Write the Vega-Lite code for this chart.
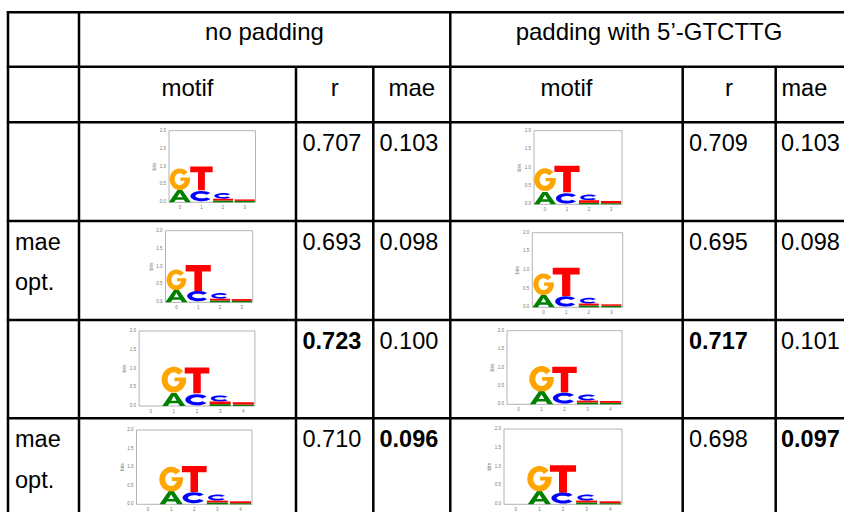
{
  "$schema": "https://vega.github.io/schema/vega-lite/v6.json",
  "width": 844,
  "height": 512,
  "padding": 0,
  "autosize": "none",
  "background": "white",
  "config": {"view": {"stroke": null}, "font": "Liberation Sans"},
  "datasets": {
    "grid": [
      {"x1": 6.8, "x2": 844, "y1": 12.3, "y2": 12.3},
      {"x1": 6.8, "x2": 844, "y1": 66.7, "y2": 66.7},
      {"x1": 6.8, "x2": 844, "y1": 122.3, "y2": 122.3},
      {"x1": 6.8, "x2": 844, "y1": 221, "y2": 221},
      {"x1": 6.8, "x2": 844, "y1": 320, "y2": 320},
      {"x1": 6.8, "x2": 844, "y1": 418.3, "y2": 418.3},
      {"x1": 8, "x2": 8, "y1": 11, "y2": 512},
      {"x1": 79, "x2": 79, "y1": 11, "y2": 512},
      {"x1": 296, "x2": 296, "y1": 66.7, "y2": 512},
      {"x1": 373.3, "x2": 373.3, "y1": 66.7, "y2": 512},
      {"x1": 450.3, "x2": 450.3, "y1": 11, "y2": 512},
      {"x1": 682.7, "x2": 682.7, "y1": 66.7, "y2": 512},
      {"x1": 775.7, "x2": 775.7, "y1": 66.7, "y2": 512}
    ],
    "headers": [
      {"t": "no padding", "x": 264.5, "y": 40},
      {"t": "padding with 5’-GTCTTG", "x": 649, "y": 40},
      {"t": "motif", "x": 187.5, "y": 96},
      {"t": "r", "x": 334.7, "y": 96},
      {"t": "mae", "x": 411.8, "y": 96},
      {"t": "motif", "x": 566.5, "y": 96},
      {"t": "r", "x": 729, "y": 96}
    ],
    "cells": [
      {"t": "mae", "x": 781.5, "y": 96, "b": false},
      {"t": "mae", "x": 15, "y": 250, "b": false},
      {"t": "opt.", "x": 15, "y": 290, "b": false},
      {"t": "mae", "x": 15, "y": 447, "b": false},
      {"t": "opt.", "x": 15, "y": 488, "b": false},
      {"t": "0.707", "x": 302.5, "y": 150.5, "b": false},
      {"t": "0.103", "x": 379.5, "y": 150.5, "b": false},
      {"t": "0.709", "x": 689, "y": 150.5, "b": false},
      {"t": "0.103", "x": 781, "y": 150.5, "b": false},
      {"t": "0.693", "x": 302.5, "y": 250, "b": false},
      {"t": "0.098", "x": 379.5, "y": 250, "b": false},
      {"t": "0.695", "x": 689, "y": 250, "b": false},
      {"t": "0.098", "x": 781, "y": 250, "b": false},
      {"t": "0.723", "x": 302.5, "y": 348.5, "b": true},
      {"t": "0.100", "x": 379.5, "y": 348.5, "b": false},
      {"t": "0.717", "x": 689, "y": 348.5, "b": true},
      {"t": "0.101", "x": 781, "y": 348.5, "b": false},
      {"t": "0.710", "x": 302.5, "y": 447, "b": false},
      {"t": "0.096", "x": 379.5, "y": 447, "b": true},
      {"t": "0.698", "x": 689, "y": 447, "b": false},
      {"t": "0.097", "x": 781, "y": 447, "b": true}
    ],
    "yt": [{"v": 0}, {"v": 0.5}, {"v": 1}, {"v": 1.5}, {"v": 2}],
    "xt4": [{"v": 0}, {"v": 1}, {"v": 2}, {"v": 3}],
    "xt5": [{"v": 0}, {"v": 1}, {"v": 2}, {"v": 3}, {"v": 4}],
    "letters": [
      {"logo": 1, "pos": 0, "letter": "A", "y0": 0, "h": 0.345},
      {"logo": 1, "pos": 0, "letter": "G", "y0": 0.345, "h": 0.6},
      {"logo": 1, "pos": 1, "letter": "C", "y0": 0.03, "h": 0.29},
      {"logo": 1, "pos": 1, "letter": "T", "y0": 0.34, "h": 0.66},
      {"logo": 1, "pos": 2, "letter": "A", "y0": 0, "h": 0.05},
      {"logo": 1, "pos": 2, "letter": "T", "y0": 0.05, "h": 0.05},
      {"logo": 1, "pos": 2, "letter": "C", "y0": 0.1, "h": 0.14},
      {"logo": 1, "pos": 3, "letter": "A", "y0": 0, "h": 0.04},
      {"logo": 1, "pos": 3, "letter": "T", "y0": 0.04, "h": 0.04},
      {"logo": 2, "pos": 0, "letter": "A", "y0": 0, "h": 0.36},
      {"logo": 2, "pos": 0, "letter": "G", "y0": 0.36, "h": 0.62},
      {"logo": 2, "pos": 1, "letter": "C", "y0": 0.02, "h": 0.31},
      {"logo": 2, "pos": 1, "letter": "T", "y0": 0.33, "h": 0.72},
      {"logo": 2, "pos": 2, "letter": "A", "y0": 0, "h": 0.04},
      {"logo": 2, "pos": 2, "letter": "T", "y0": 0.04, "h": 0.07},
      {"logo": 2, "pos": 2, "letter": "C", "y0": 0.11, "h": 0.19},
      {"logo": 2, "pos": 3, "letter": "A", "y0": 0, "h": 0.03},
      {"logo": 2, "pos": 3, "letter": "T", "y0": 0.03, "h": 0.06},
      {"logo": 3, "pos": 0, "letter": "A", "y0": 0, "h": 0.34},
      {"logo": 3, "pos": 0, "letter": "G", "y0": 0.34, "h": 0.58},
      {"logo": 3, "pos": 1, "letter": "C", "y0": 0.03, "h": 0.27},
      {"logo": 3, "pos": 1, "letter": "T", "y0": 0.3, "h": 0.74},
      {"logo": 3, "pos": 2, "letter": "A", "y0": 0, "h": 0.05},
      {"logo": 3, "pos": 2, "letter": "T", "y0": 0.05, "h": 0.05},
      {"logo": 3, "pos": 2, "letter": "C", "y0": 0.1, "h": 0.16},
      {"logo": 3, "pos": 3, "letter": "A", "y0": 0, "h": 0.04},
      {"logo": 3, "pos": 3, "letter": "T", "y0": 0.04, "h": 0.05},
      {"logo": 4, "pos": 0, "letter": "A", "y0": 0, "h": 0.33},
      {"logo": 4, "pos": 0, "letter": "G", "y0": 0.33, "h": 0.58},
      {"logo": 4, "pos": 1, "letter": "C", "y0": 0.02, "h": 0.28},
      {"logo": 4, "pos": 1, "letter": "T", "y0": 0.3, "h": 0.76},
      {"logo": 4, "pos": 2, "letter": "A", "y0": 0, "h": 0.05},
      {"logo": 4, "pos": 2, "letter": "T", "y0": 0.05, "h": 0.05},
      {"logo": 4, "pos": 2, "letter": "C", "y0": 0.1, "h": 0.17},
      {"logo": 4, "pos": 3, "letter": "A", "y0": 0, "h": 0.04},
      {"logo": 4, "pos": 3, "letter": "T", "y0": 0.04, "h": 0.04},
      {"logo": 5, "pos": 1, "letter": "A", "y0": 0, "h": 0.36},
      {"logo": 5, "pos": 1, "letter": "G", "y0": 0.36, "h": 0.69},
      {"logo": 5, "pos": 2, "letter": "C", "y0": 0.02, "h": 0.32},
      {"logo": 5, "pos": 2, "letter": "T", "y0": 0.34, "h": 0.69},
      {"logo": 5, "pos": 3, "letter": "A", "y0": 0, "h": 0.05},
      {"logo": 5, "pos": 3, "letter": "T", "y0": 0.05, "h": 0.07},
      {"logo": 5, "pos": 3, "letter": "C", "y0": 0.12, "h": 0.18},
      {"logo": 5, "pos": 4, "letter": "A", "y0": 0, "h": 0.04},
      {"logo": 5, "pos": 4, "letter": "T", "y0": 0.04, "h": 0.06},
      {"logo": 6, "pos": 1, "letter": "A", "y0": 0, "h": 0.34},
      {"logo": 6, "pos": 1, "letter": "G", "y0": 0.34, "h": 0.7},
      {"logo": 6, "pos": 2, "letter": "C", "y0": 0.02, "h": 0.3},
      {"logo": 6, "pos": 2, "letter": "T", "y0": 0.32, "h": 0.7},
      {"logo": 6, "pos": 3, "letter": "A", "y0": 0, "h": 0.05},
      {"logo": 6, "pos": 3, "letter": "T", "y0": 0.05, "h": 0.05},
      {"logo": 6, "pos": 3, "letter": "C", "y0": 0.1, "h": 0.14},
      {"logo": 6, "pos": 4, "letter": "A", "y0": 0, "h": 0.04},
      {"logo": 6, "pos": 4, "letter": "T", "y0": 0.04, "h": 0.05},
      {"logo": 7, "pos": 1, "letter": "A", "y0": 0, "h": 0.34},
      {"logo": 7, "pos": 1, "letter": "G", "y0": 0.34, "h": 0.67},
      {"logo": 7, "pos": 2, "letter": "C", "y0": 0.03, "h": 0.3},
      {"logo": 7, "pos": 2, "letter": "T", "y0": 0.33, "h": 0.7},
      {"logo": 7, "pos": 3, "letter": "A", "y0": 0, "h": 0.05},
      {"logo": 7, "pos": 3, "letter": "T", "y0": 0.05, "h": 0.05},
      {"logo": 7, "pos": 3, "letter": "C", "y0": 0.1, "h": 0.15},
      {"logo": 7, "pos": 4, "letter": "A", "y0": 0, "h": 0.03},
      {"logo": 7, "pos": 4, "letter": "T", "y0": 0.03, "h": 0.05},
      {"logo": 8, "pos": 1, "letter": "A", "y0": 0, "h": 0.34},
      {"logo": 8, "pos": 1, "letter": "G", "y0": 0.34, "h": 0.68},
      {"logo": 8, "pos": 2, "letter": "C", "y0": 0.02, "h": 0.29},
      {"logo": 8, "pos": 2, "letter": "T", "y0": 0.31, "h": 0.73},
      {"logo": 8, "pos": 3, "letter": "A", "y0": 0, "h": 0.05},
      {"logo": 8, "pos": 3, "letter": "T", "y0": 0.05, "h": 0.05},
      {"logo": 8, "pos": 3, "letter": "C", "y0": 0.1, "h": 0.15},
      {"logo": 8, "pos": 4, "letter": "A", "y0": 0, "h": 0.03},
      {"logo": 8, "pos": 4, "letter": "T", "y0": 0.03, "h": 0.05}
    ]
  },
  "resolve": {"scale": {"x": "independent", "y": "independent", "size": "independent"}},
  "layer": [
    {
      "encoding": {
        "x": {"field": "x", "type": "quantitative", "scale": {"domain": [0, 844], "range": [0, 844], "nice": false, "zero": false}, "axis": null},
        "y": {"field": "y", "type": "quantitative", "scale": {"domain": [0, 512], "range": [0, 512], "nice": false, "zero": false}, "axis": null}
      },
      "layer": [
        {"data": {"name": "grid"}, "mark": {"type": "rule", "color": "black", "strokeWidth": 2.5},
         "encoding": {"x": {"field": "x1", "type": "quantitative"}, "x2": {"field": "x2"}, "y": {"field": "y1", "type": "quantitative"}, "y2": {"field": "y2"}}},
        {"data": {"name": "headers"}, "mark": {"type": "text", "align": "center", "baseline": "alphabetic", "fontSize": 24, "color": "black"},
         "encoding": {"text": {"field": "t"}}},
        {"data": {"name": "cells"}, "transform": [{"filter": "!datum.b"}], "mark": {"type": "text", "align": "left", "baseline": "alphabetic", "fontSize": 23.5, "color": "black"},
         "encoding": {"text": {"field": "t"}}},
        {"data": {"name": "cells"}, "transform": [{"filter": "datum.b"}], "mark": {"type": "text", "align": "left", "baseline": "alphabetic", "fontSize": 23.5, "fontWeight": "bold", "color": "black"},
         "encoding": {"text": {"field": "t"}}}
      ]
    },
    {
      "layer": [
        {"data": {"values": [{}]}, "mark": {"type": "rect", "filled": false, "stroke": "#a0a0a0", "strokeWidth": 0.8},
         "encoding": {"x": {"datum": -0.5, "type": "quantitative", "scale": {"domain": [-0.5, 3.5], "range": [164, 260.5], "nice": false, "zero": false}, "axis": null}, "x2": {"datum": 3.5}, "y": {"datum": 0, "type": "quantitative", "scale": {"domain": [0, 2], "range": [202.3, 130.7], "nice": false, "zero": false}, "axis": null}, "y2": {"datum": 2}}},
        {"data": {"name": "yt"}, "mark": {"type": "text", "fontSize": 4.5, "color": "#777", "align": "right", "baseline": "middle", "dx": -3},
         "encoding": {"x": {"datum": -0.5, "type": "quantitative", "scale": {"domain": [-0.5, 3.5], "range": [164, 260.5], "nice": false, "zero": false}, "axis": null}, "y": {"field": "v", "type": "quantitative", "scale": {"domain": [0, 2], "range": [202.3, 130.7], "nice": false, "zero": false}, "axis": null}, "text": {"field": "v", "format": ".1f"}}},
        {"data": {"name": "xt4"}, "mark": {"type": "text", "fontSize": 4.5, "color": "#777", "align": "center", "baseline": "top", "dy": 3},
         "encoding": {"x": {"field": "v", "type": "quantitative", "scale": {"domain": [-0.5, 3.5], "range": [164, 260.5], "nice": false, "zero": false}, "axis": null}, "y": {"datum": 0, "type": "quantitative", "scale": {"domain": [0, 2], "range": [202.3, 130.7], "nice": false, "zero": false}, "axis": null}, "text": {"field": "v"}}},
        {"data": {"values": [{"t": "bits"}]}, "mark": {"type": "text", "fontSize": 5, "color": "#777", "align": "center", "baseline": "middle", "angle": 270, "dy": -15},
         "encoding": {"x": {"datum": -0.5, "type": "quantitative", "scale": {"domain": [-0.5, 3.5], "range": [164, 260.5], "nice": false, "zero": false}, "axis": null}, "y": {"datum": 1, "type": "quantitative", "scale": {"domain": [0, 2], "range": [202.3, 130.7], "nice": false, "zero": false}, "axis": null}, "text": {"field": "t"}}},
        {"data": {"name": "letters"}, "transform": [{"filter": "datum.logo == 1 && datum.letter == 'G'"}],
         "mark": {"type": "point", "filled": true, "opacity": 1, "strokeWidth": 0, "shape": "M0.73,-1.64 A0.95,1 0 1 0 0.95,-0.9 L0.95,-1.15 L0.05,-1.15 L0.05,-0.86 L0.46,-0.86 A0.48,0.55 0 1 1 0.36,-1.37 Z"},
         "encoding": {"x": {"field": "pos", "type": "quantitative", "scale": {"domain": [-0.5, 3.5], "range": [164, 260.5], "nice": false, "zero": false}, "axis": null}, "y": {"field": "y0", "type": "quantitative", "scale": {"domain": [0, 2], "range": [202.3, 130.7], "nice": false, "zero": false}, "axis": null},
                      "size": {"field": "h", "type": "quantitative", "scale": {"type": "pow", "exponent": 2, "domain": [0, 1], "range": [0, 1281.6], "zero": true}, "legend": null},
                      "color": {"field": "letter", "type": "nominal", "scale": {"domain": ["A", "C", "G", "T"], "range": ["#008000", "#0000ff", "#ffa500", "#ff0000"]}, "legend": null}}},
        {"data": {"name": "letters"}, "transform": [{"filter": "datum.logo == 1 && datum.letter == 'T' && datum.h >= 0.1"}],
         "mark": {"type": "point", "filled": true, "opacity": 1, "strokeWidth": 0, "shape": "M-0.95,-2 L0.95,-2 L0.95,-1.52 L0.29,-1.52 L0.29,0 L-0.29,0 L-0.29,-1.52 L-0.95,-1.52 Z"},
         "encoding": {"x": {"field": "pos", "type": "quantitative", "scale": {"domain": [-0.5, 3.5], "range": [164, 260.5], "nice": false, "zero": false}, "axis": null}, "y": {"field": "y0", "type": "quantitative", "scale": {"domain": [0, 2], "range": [202.3, 130.7], "nice": false, "zero": false}, "axis": null},
                      "size": {"field": "h", "type": "quantitative", "scale": {"type": "pow", "exponent": 2, "domain": [0, 1], "range": [0, 1281.6], "zero": true}, "legend": null},
                      "color": {"field": "letter", "type": "nominal", "legend": null}}},
        {"data": {"name": "letters"}, "transform": [{"filter": "datum.logo == 1 && datum.letter == 'A' && datum.h >= 0.1"}],
         "mark": {"type": "point", "filled": true, "opacity": 1, "strokeWidth": 0, "size": 484, "shape": "M-1,0 L-0.22,-1.12 L0.22,-1.12 L1,0 L0.52,0 L0.36,-0.24 L-0.36,-0.24 L-0.52,0 Z M-0.24,-0.46 L0.24,-0.46 L0,-0.85 Z"},
         "encoding": {"x": {"field": "pos", "type": "quantitative", "scale": {"domain": [-0.5, 3.5], "range": [164, 260.5], "nice": false, "zero": false}, "axis": null}, "y": {"field": "y0", "type": "quantitative", "scale": {"domain": [0, 2], "range": [202.3, 130.7], "nice": false, "zero": false}, "axis": null}, "color": {"field": "letter", "type": "nominal", "legend": null}}},
        {"data": {"name": "letters"}, "transform": [{"filter": "datum.logo == 1 && datum.letter == 'C' && datum.h >= 0.22"}],
         "mark": {"type": "point", "filled": true, "opacity": 1, "strokeWidth": 0, "size": 484, "shape": "M0.819,-0.74 A1,0.47 0 1 0 0.819,-0.2 L0.45,-0.35 A0.55,0.21 0 1 1 0.45,-0.59 Z"},
         "encoding": {"x": {"field": "pos", "type": "quantitative", "scale": {"domain": [-0.5, 3.5], "range": [164, 260.5], "nice": false, "zero": false}, "axis": null}, "y": {"field": "y0", "type": "quantitative", "scale": {"domain": [0, 2], "range": [202.3, 130.7], "nice": false, "zero": false}, "axis": null}, "color": {"field": "letter", "type": "nominal", "legend": null}}},
        {"data": {"name": "letters"}, "transform": [{"filter": "datum.logo == 1 && datum.letter == 'C' && datum.h >= 0.1 && datum.h < 0.22"}],
         "mark": {"type": "point", "filled": true, "opacity": 1, "strokeWidth": 0, "size": 484, "shape": "M0.655,-0.409 A0.8,0.26 0 1 0 0.655,-0.111 L0.369,-0.197 A0.45,0.11 0 1 1 0.369,-0.323 Z"},
         "encoding": {"x": {"field": "pos", "type": "quantitative", "scale": {"domain": [-0.5, 3.5], "range": [164, 260.5], "nice": false, "zero": false}, "axis": null}, "y": {"field": "y0", "type": "quantitative", "scale": {"domain": [0, 2], "range": [202.3, 130.7], "nice": false, "zero": false}, "axis": null}, "color": {"field": "letter", "type": "nominal", "legend": null}}},
        {"data": {"name": "letters"}, "transform": [{"filter": "datum.logo == 1 && datum.h < 0.1"}],
         "mark": {"type": "bar", "size": 20},
         "encoding": {"x": {"field": "pos", "type": "quantitative", "scale": {"domain": [-0.5, 3.5], "range": [164, 260.5], "nice": false, "zero": false}, "axis": null}, "y": {"field": "h", "type": "quantitative", "stack": "zero", "scale": {"domain": [0, 2], "range": [202.3, 130.7], "nice": false, "zero": false}, "axis": null}, "order": {"field": "y0"}, "color": {"field": "letter", "type": "nominal", "legend": null}}}
      ]
    },
    {
      "layer": [
        {"data": {"values": [{}]}, "mark": {"type": "rect", "filled": false, "stroke": "#a0a0a0", "strokeWidth": 0.8},
         "encoding": {"x": {"datum": -0.5, "type": "quantitative", "scale": {"domain": [-0.5, 3.5], "range": [529, 627], "nice": false, "zero": false}, "axis": null}, "x2": {"datum": 3.5}, "y": {"datum": 0, "type": "quantitative", "scale": {"domain": [0, 2], "range": [204.3, 130.7], "nice": false, "zero": false}, "axis": null}, "y2": {"datum": 2}}},
        {"data": {"name": "yt"}, "mark": {"type": "text", "fontSize": 4.5, "color": "#777", "align": "right", "baseline": "middle", "dx": -3},
         "encoding": {"x": {"datum": -0.5, "type": "quantitative", "scale": {"domain": [-0.5, 3.5], "range": [529, 627], "nice": false, "zero": false}, "axis": null}, "y": {"field": "v", "type": "quantitative", "scale": {"domain": [0, 2], "range": [204.3, 130.7], "nice": false, "zero": false}, "axis": null}, "text": {"field": "v", "format": ".1f"}}},
        {"data": {"name": "xt4"}, "mark": {"type": "text", "fontSize": 4.5, "color": "#777", "align": "center", "baseline": "top", "dy": 3},
         "encoding": {"x": {"field": "v", "type": "quantitative", "scale": {"domain": [-0.5, 3.5], "range": [529, 627], "nice": false, "zero": false}, "axis": null}, "y": {"datum": 0, "type": "quantitative", "scale": {"domain": [0, 2], "range": [204.3, 130.7], "nice": false, "zero": false}, "axis": null}, "text": {"field": "v"}}},
        {"data": {"values": [{"t": "bits"}]}, "mark": {"type": "text", "fontSize": 5, "color": "#777", "align": "center", "baseline": "middle", "angle": 270, "dy": -15},
         "encoding": {"x": {"datum": -0.5, "type": "quantitative", "scale": {"domain": [-0.5, 3.5], "range": [529, 627], "nice": false, "zero": false}, "axis": null}, "y": {"datum": 1, "type": "quantitative", "scale": {"domain": [0, 2], "range": [204.3, 130.7], "nice": false, "zero": false}, "axis": null}, "text": {"field": "t"}}},
        {"data": {"name": "letters"}, "transform": [{"filter": "datum.logo == 2 && datum.letter == 'G'"}],
         "mark": {"type": "point", "filled": true, "opacity": 1, "strokeWidth": 0, "shape": "M0.73,-1.64 A0.95,1 0 1 0 0.95,-0.9 L0.95,-1.15 L0.05,-1.15 L0.05,-0.86 L0.46,-0.86 A0.48,0.55 0 1 1 0.36,-1.37 Z"},
         "encoding": {"x": {"field": "pos", "type": "quantitative", "scale": {"domain": [-0.5, 3.5], "range": [529, 627], "nice": false, "zero": false}, "axis": null}, "y": {"field": "y0", "type": "quantitative", "scale": {"domain": [0, 2], "range": [204.3, 130.7], "nice": false, "zero": false}, "axis": null},
                      "size": {"field": "h", "type": "quantitative", "scale": {"type": "pow", "exponent": 2, "domain": [0, 1], "range": [0, 1354.2], "zero": true}, "legend": null},
                      "color": {"field": "letter", "type": "nominal", "legend": null}}},
        {"data": {"name": "letters"}, "transform": [{"filter": "datum.logo == 2 && datum.letter == 'T' && datum.h >= 0.1"}],
         "mark": {"type": "point", "filled": true, "opacity": 1, "strokeWidth": 0, "shape": "M-0.95,-2 L0.95,-2 L0.95,-1.52 L0.29,-1.52 L0.29,0 L-0.29,0 L-0.29,-1.52 L-0.95,-1.52 Z"},
         "encoding": {"x": {"field": "pos", "type": "quantitative", "scale": {"domain": [-0.5, 3.5], "range": [529, 627], "nice": false, "zero": false}, "axis": null}, "y": {"field": "y0", "type": "quantitative", "scale": {"domain": [0, 2], "range": [204.3, 130.7], "nice": false, "zero": false}, "axis": null},
                      "size": {"field": "h", "type": "quantitative", "scale": {"type": "pow", "exponent": 2, "domain": [0, 1], "range": [0, 1354.2], "zero": true}, "legend": null},
                      "color": {"field": "letter", "type": "nominal", "legend": null}}},
        {"data": {"name": "letters"}, "transform": [{"filter": "datum.logo == 2 && datum.letter == 'A' && datum.h >= 0.1"}],
         "mark": {"type": "point", "filled": true, "opacity": 1, "strokeWidth": 0, "size": 484, "shape": "M-1,0 L-0.22,-1.12 L0.22,-1.12 L1,0 L0.52,0 L0.36,-0.24 L-0.36,-0.24 L-0.52,0 Z M-0.24,-0.46 L0.24,-0.46 L0,-0.85 Z"},
         "encoding": {"x": {"field": "pos", "type": "quantitative", "scale": {"domain": [-0.5, 3.5], "range": [529, 627], "nice": false, "zero": false}, "axis": null}, "y": {"field": "y0", "type": "quantitative", "scale": {"domain": [0, 2], "range": [204.3, 130.7], "nice": false, "zero": false}, "axis": null}, "color": {"field": "letter", "type": "nominal", "legend": null}}},
        {"data": {"name": "letters"}, "transform": [{"filter": "datum.logo == 2 && datum.letter == 'C' && datum.h >= 0.22"}],
         "mark": {"type": "point", "filled": true, "opacity": 1, "strokeWidth": 0, "size": 484, "shape": "M0.819,-0.74 A1,0.47 0 1 0 0.819,-0.2 L0.45,-0.35 A0.55,0.21 0 1 1 0.45,-0.59 Z"},
         "encoding": {"x": {"field": "pos", "type": "quantitative", "scale": {"domain": [-0.5, 3.5], "range": [529, 627], "nice": false, "zero": false}, "axis": null}, "y": {"field": "y0", "type": "quantitative", "scale": {"domain": [0, 2], "range": [204.3, 130.7], "nice": false, "zero": false}, "axis": null}, "color": {"field": "letter", "type": "nominal", "legend": null}}},
        {"data": {"name": "letters"}, "transform": [{"filter": "datum.logo == 2 && datum.letter == 'C' && datum.h >= 0.1 && datum.h < 0.22"}],
         "mark": {"type": "point", "filled": true, "opacity": 1, "strokeWidth": 0, "size": 484, "shape": "M0.655,-0.409 A0.8,0.26 0 1 0 0.655,-0.111 L0.369,-0.197 A0.45,0.11 0 1 1 0.369,-0.323 Z"},
         "encoding": {"x": {"field": "pos", "type": "quantitative", "scale": {"domain": [-0.5, 3.5], "range": [529, 627], "nice": false, "zero": false}, "axis": null}, "y": {"field": "y0", "type": "quantitative", "scale": {"domain": [0, 2], "range": [204.3, 130.7], "nice": false, "zero": false}, "axis": null}, "color": {"field": "letter", "type": "nominal", "legend": null}}},
        {"data": {"name": "letters"}, "transform": [{"filter": "datum.logo == 2 && datum.h < 0.1"}],
         "mark": {"type": "bar", "size": 20},
         "encoding": {"x": {"field": "pos", "type": "quantitative", "scale": {"domain": [-0.5, 3.5], "range": [529, 627], "nice": false, "zero": false}, "axis": null}, "y": {"field": "h", "type": "quantitative", "stack": "zero", "scale": {"domain": [0, 2], "range": [204.3, 130.7], "nice": false, "zero": false}, "axis": null}, "order": {"field": "y0"}, "color": {"field": "letter", "type": "nominal", "legend": null}}}
      ]
    },
    {
      "layer": [
        {"data": {"values": [{}]}, "mark": {"type": "rect", "filled": false, "stroke": "#a0a0a0", "strokeWidth": 0.8},
         "encoding": {"x": {"datum": -0.5, "type": "quantitative", "scale": {"domain": [-0.5, 3.5], "range": [160.5, 257.7], "nice": false, "zero": false}, "axis": null}, "x2": {"datum": 3.5}, "y": {"datum": 0, "type": "quantitative", "scale": {"domain": [0, 2], "range": [302.3, 230.7], "nice": false, "zero": false}, "axis": null}, "y2": {"datum": 2}}},
        {"data": {"name": "yt"}, "mark": {"type": "text", "fontSize": 4.5, "color": "#777", "align": "right", "baseline": "middle", "dx": -3},
         "encoding": {"x": {"datum": -0.5, "type": "quantitative", "scale": {"domain": [-0.5, 3.5], "range": [160.5, 257.7], "nice": false, "zero": false}, "axis": null}, "y": {"field": "v", "type": "quantitative", "scale": {"domain": [0, 2], "range": [302.3, 230.7], "nice": false, "zero": false}, "axis": null}, "text": {"field": "v", "format": ".1f"}}},
        {"data": {"name": "xt4"}, "mark": {"type": "text", "fontSize": 4.5, "color": "#777", "align": "center", "baseline": "top", "dy": 3},
         "encoding": {"x": {"field": "v", "type": "quantitative", "scale": {"domain": [-0.5, 3.5], "range": [160.5, 257.7], "nice": false, "zero": false}, "axis": null}, "y": {"datum": 0, "type": "quantitative", "scale": {"domain": [0, 2], "range": [302.3, 230.7], "nice": false, "zero": false}, "axis": null}, "text": {"field": "v"}}},
        {"data": {"values": [{"t": "bits"}]}, "mark": {"type": "text", "fontSize": 5, "color": "#777", "align": "center", "baseline": "middle", "angle": 270, "dy": -15},
         "encoding": {"x": {"datum": -0.5, "type": "quantitative", "scale": {"domain": [-0.5, 3.5], "range": [160.5, 257.7], "nice": false, "zero": false}, "axis": null}, "y": {"datum": 1, "type": "quantitative", "scale": {"domain": [0, 2], "range": [302.3, 230.7], "nice": false, "zero": false}, "axis": null}, "text": {"field": "t"}}},
        {"data": {"name": "letters"}, "transform": [{"filter": "datum.logo == 3 && datum.letter == 'G'"}],
         "mark": {"type": "point", "filled": true, "opacity": 1, "strokeWidth": 0, "shape": "M0.73,-1.64 A0.95,1 0 1 0 0.95,-0.9 L0.95,-1.15 L0.05,-1.15 L0.05,-0.86 L0.46,-0.86 A0.48,0.55 0 1 1 0.36,-1.37 Z"},
         "encoding": {"x": {"field": "pos", "type": "quantitative", "scale": {"domain": [-0.5, 3.5], "range": [160.5, 257.7], "nice": false, "zero": false}, "axis": null}, "y": {"field": "y0", "type": "quantitative", "scale": {"domain": [0, 2], "range": [302.3, 230.7], "nice": false, "zero": false}, "axis": null},
                      "size": {"field": "h", "type": "quantitative", "scale": {"type": "pow", "exponent": 2, "domain": [0, 1], "range": [0, 1281.6], "zero": true}, "legend": null},
                      "color": {"field": "letter", "type": "nominal", "legend": null}}},
        {"data": {"name": "letters"}, "transform": [{"filter": "datum.logo == 3 && datum.letter == 'T' && datum.h >= 0.1"}],
         "mark": {"type": "point", "filled": true, "opacity": 1, "strokeWidth": 0, "shape": "M-0.95,-2 L0.95,-2 L0.95,-1.52 L0.29,-1.52 L0.29,0 L-0.29,0 L-0.29,-1.52 L-0.95,-1.52 Z"},
         "encoding": {"x": {"field": "pos", "type": "quantitative", "scale": {"domain": [-0.5, 3.5], "range": [160.5, 257.7], "nice": false, "zero": false}, "axis": null}, "y": {"field": "y0", "type": "quantitative", "scale": {"domain": [0, 2], "range": [302.3, 230.7], "nice": false, "zero": false}, "axis": null},
                      "size": {"field": "h", "type": "quantitative", "scale": {"type": "pow", "exponent": 2, "domain": [0, 1], "range": [0, 1281.6], "zero": true}, "legend": null},
                      "color": {"field": "letter", "type": "nominal", "legend": null}}},
        {"data": {"name": "letters"}, "transform": [{"filter": "datum.logo == 3 && datum.letter == 'A' && datum.h >= 0.1"}],
         "mark": {"type": "point", "filled": true, "opacity": 1, "strokeWidth": 0, "size": 484, "shape": "M-1,0 L-0.22,-1.12 L0.22,-1.12 L1,0 L0.52,0 L0.36,-0.24 L-0.36,-0.24 L-0.52,0 Z M-0.24,-0.46 L0.24,-0.46 L0,-0.85 Z"},
         "encoding": {"x": {"field": "pos", "type": "quantitative", "scale": {"domain": [-0.5, 3.5], "range": [160.5, 257.7], "nice": false, "zero": false}, "axis": null}, "y": {"field": "y0", "type": "quantitative", "scale": {"domain": [0, 2], "range": [302.3, 230.7], "nice": false, "zero": false}, "axis": null}, "color": {"field": "letter", "type": "nominal", "legend": null}}},
        {"data": {"name": "letters"}, "transform": [{"filter": "datum.logo == 3 && datum.letter == 'C' && datum.h >= 0.22"}],
         "mark": {"type": "point", "filled": true, "opacity": 1, "strokeWidth": 0, "size": 484, "shape": "M0.819,-0.74 A1,0.47 0 1 0 0.819,-0.2 L0.45,-0.35 A0.55,0.21 0 1 1 0.45,-0.59 Z"},
         "encoding": {"x": {"field": "pos", "type": "quantitative", "scale": {"domain": [-0.5, 3.5], "range": [160.5, 257.7], "nice": false, "zero": false}, "axis": null}, "y": {"field": "y0", "type": "quantitative", "scale": {"domain": [0, 2], "range": [302.3, 230.7], "nice": false, "zero": false}, "axis": null}, "color": {"field": "letter", "type": "nominal", "legend": null}}},
        {"data": {"name": "letters"}, "transform": [{"filter": "datum.logo == 3 && datum.letter == 'C' && datum.h >= 0.1 && datum.h < 0.22"}],
         "mark": {"type": "point", "filled": true, "opacity": 1, "strokeWidth": 0, "size": 484, "shape": "M0.655,-0.409 A0.8,0.26 0 1 0 0.655,-0.111 L0.369,-0.197 A0.45,0.11 0 1 1 0.369,-0.323 Z"},
         "encoding": {"x": {"field": "pos", "type": "quantitative", "scale": {"domain": [-0.5, 3.5], "range": [160.5, 257.7], "nice": false, "zero": false}, "axis": null}, "y": {"field": "y0", "type": "quantitative", "scale": {"domain": [0, 2], "range": [302.3, 230.7], "nice": false, "zero": false}, "axis": null}, "color": {"field": "letter", "type": "nominal", "legend": null}}},
        {"data": {"name": "letters"}, "transform": [{"filter": "datum.logo == 3 && datum.h < 0.1"}],
         "mark": {"type": "bar", "size": 20},
         "encoding": {"x": {"field": "pos", "type": "quantitative", "scale": {"domain": [-0.5, 3.5], "range": [160.5, 257.7], "nice": false, "zero": false}, "axis": null}, "y": {"field": "h", "type": "quantitative", "stack": "zero", "scale": {"domain": [0, 2], "range": [302.3, 230.7], "nice": false, "zero": false}, "axis": null}, "order": {"field": "y0"}, "color": {"field": "letter", "type": "nominal", "legend": null}}}
      ]
    },
    {
      "layer": [
        {"data": {"values": [{}]}, "mark": {"type": "rect", "filled": false, "stroke": "#a0a0a0", "strokeWidth": 0.8},
         "encoding": {"x": {"datum": -0.5, "type": "quantitative", "scale": {"domain": [-0.5, 3.5], "range": [527.3, 627.7], "nice": false, "zero": false}, "axis": null}, "x2": {"datum": 3.5}, "y": {"datum": 0, "type": "quantitative", "scale": {"domain": [0, 2], "range": [307.3, 232.7], "nice": false, "zero": false}, "axis": null}, "y2": {"datum": 2}}},
        {"data": {"name": "yt"}, "mark": {"type": "text", "fontSize": 4.5, "color": "#777", "align": "right", "baseline": "middle", "dx": -3},
         "encoding": {"x": {"datum": -0.5, "type": "quantitative", "scale": {"domain": [-0.5, 3.5], "range": [527.3, 627.7], "nice": false, "zero": false}, "axis": null}, "y": {"field": "v", "type": "quantitative", "scale": {"domain": [0, 2], "range": [307.3, 232.7], "nice": false, "zero": false}, "axis": null}, "text": {"field": "v", "format": ".1f"}}},
        {"data": {"name": "xt4"}, "mark": {"type": "text", "fontSize": 4.5, "color": "#777", "align": "center", "baseline": "top", "dy": 3},
         "encoding": {"x": {"field": "v", "type": "quantitative", "scale": {"domain": [-0.5, 3.5], "range": [527.3, 627.7], "nice": false, "zero": false}, "axis": null}, "y": {"datum": 0, "type": "quantitative", "scale": {"domain": [0, 2], "range": [307.3, 232.7], "nice": false, "zero": false}, "axis": null}, "text": {"field": "v"}}},
        {"data": {"values": [{"t": "bits"}]}, "mark": {"type": "text", "fontSize": 5, "color": "#777", "align": "center", "baseline": "middle", "angle": 270, "dy": -15},
         "encoding": {"x": {"datum": -0.5, "type": "quantitative", "scale": {"domain": [-0.5, 3.5], "range": [527.3, 627.7], "nice": false, "zero": false}, "axis": null}, "y": {"datum": 1, "type": "quantitative", "scale": {"domain": [0, 2], "range": [307.3, 232.7], "nice": false, "zero": false}, "axis": null}, "text": {"field": "t"}}},
        {"data": {"name": "letters"}, "transform": [{"filter": "datum.logo == 4 && datum.letter == 'G'"}],
         "mark": {"type": "point", "filled": true, "opacity": 1, "strokeWidth": 0, "shape": "M0.73,-1.64 A0.95,1 0 1 0 0.95,-0.9 L0.95,-1.15 L0.05,-1.15 L0.05,-0.86 L0.46,-0.86 A0.48,0.55 0 1 1 0.36,-1.37 Z"},
         "encoding": {"x": {"field": "pos", "type": "quantitative", "scale": {"domain": [-0.5, 3.5], "range": [527.3, 627.7], "nice": false, "zero": false}, "axis": null}, "y": {"field": "y0", "type": "quantitative", "scale": {"domain": [0, 2], "range": [307.3, 232.7], "nice": false, "zero": false}, "axis": null},
                      "size": {"field": "h", "type": "quantitative", "scale": {"type": "pow", "exponent": 2, "domain": [0, 1], "range": [0, 1391.3], "zero": true}, "legend": null},
                      "color": {"field": "letter", "type": "nominal", "legend": null}}},
        {"data": {"name": "letters"}, "transform": [{"filter": "datum.logo == 4 && datum.letter == 'T' && datum.h >= 0.1"}],
         "mark": {"type": "point", "filled": true, "opacity": 1, "strokeWidth": 0, "shape": "M-0.95,-2 L0.95,-2 L0.95,-1.52 L0.29,-1.52 L0.29,0 L-0.29,0 L-0.29,-1.52 L-0.95,-1.52 Z"},
         "encoding": {"x": {"field": "pos", "type": "quantitative", "scale": {"domain": [-0.5, 3.5], "range": [527.3, 627.7], "nice": false, "zero": false}, "axis": null}, "y": {"field": "y0", "type": "quantitative", "scale": {"domain": [0, 2], "range": [307.3, 232.7], "nice": false, "zero": false}, "axis": null},
                      "size": {"field": "h", "type": "quantitative", "scale": {"type": "pow", "exponent": 2, "domain": [0, 1], "range": [0, 1391.3], "zero": true}, "legend": null},
                      "color": {"field": "letter", "type": "nominal", "legend": null}}},
        {"data": {"name": "letters"}, "transform": [{"filter": "datum.logo == 4 && datum.letter == 'A' && datum.h >= 0.1"}],
         "mark": {"type": "point", "filled": true, "opacity": 1, "strokeWidth": 0, "size": 484, "shape": "M-1,0 L-0.22,-1.12 L0.22,-1.12 L1,0 L0.52,0 L0.36,-0.24 L-0.36,-0.24 L-0.52,0 Z M-0.24,-0.46 L0.24,-0.46 L0,-0.85 Z"},
         "encoding": {"x": {"field": "pos", "type": "quantitative", "scale": {"domain": [-0.5, 3.5], "range": [527.3, 627.7], "nice": false, "zero": false}, "axis": null}, "y": {"field": "y0", "type": "quantitative", "scale": {"domain": [0, 2], "range": [307.3, 232.7], "nice": false, "zero": false}, "axis": null}, "color": {"field": "letter", "type": "nominal", "legend": null}}},
        {"data": {"name": "letters"}, "transform": [{"filter": "datum.logo == 4 && datum.letter == 'C' && datum.h >= 0.22"}],
         "mark": {"type": "point", "filled": true, "opacity": 1, "strokeWidth": 0, "size": 484, "shape": "M0.819,-0.74 A1,0.47 0 1 0 0.819,-0.2 L0.45,-0.35 A0.55,0.21 0 1 1 0.45,-0.59 Z"},
         "encoding": {"x": {"field": "pos", "type": "quantitative", "scale": {"domain": [-0.5, 3.5], "range": [527.3, 627.7], "nice": false, "zero": false}, "axis": null}, "y": {"field": "y0", "type": "quantitative", "scale": {"domain": [0, 2], "range": [307.3, 232.7], "nice": false, "zero": false}, "axis": null}, "color": {"field": "letter", "type": "nominal", "legend": null}}},
        {"data": {"name": "letters"}, "transform": [{"filter": "datum.logo == 4 && datum.letter == 'C' && datum.h >= 0.1 && datum.h < 0.22"}],
         "mark": {"type": "point", "filled": true, "opacity": 1, "strokeWidth": 0, "size": 484, "shape": "M0.655,-0.409 A0.8,0.26 0 1 0 0.655,-0.111 L0.369,-0.197 A0.45,0.11 0 1 1 0.369,-0.323 Z"},
         "encoding": {"x": {"field": "pos", "type": "quantitative", "scale": {"domain": [-0.5, 3.5], "range": [527.3, 627.7], "nice": false, "zero": false}, "axis": null}, "y": {"field": "y0", "type": "quantitative", "scale": {"domain": [0, 2], "range": [307.3, 232.7], "nice": false, "zero": false}, "axis": null}, "color": {"field": "letter", "type": "nominal", "legend": null}}},
        {"data": {"name": "letters"}, "transform": [{"filter": "datum.logo == 4 && datum.h < 0.1"}],
         "mark": {"type": "bar", "size": 20},
         "encoding": {"x": {"field": "pos", "type": "quantitative", "scale": {"domain": [-0.5, 3.5], "range": [527.3, 627.7], "nice": false, "zero": false}, "axis": null}, "y": {"field": "h", "type": "quantitative", "stack": "zero", "scale": {"domain": [0, 2], "range": [307.3, 232.7], "nice": false, "zero": false}, "axis": null}, "order": {"field": "y0"}, "color": {"field": "letter", "type": "nominal", "legend": null}}}
      ]
    },
    {
      "layer": [
        {"data": {"values": [{}]}, "mark": {"type": "rect", "filled": false, "stroke": "#a0a0a0", "strokeWidth": 0.8},
         "encoding": {"x": {"datum": -0.5, "type": "quantitative", "scale": {"domain": [-0.5, 4.5], "range": [134.1, 259.9], "nice": false, "zero": false}, "axis": null}, "x2": {"datum": 4.5}, "y": {"datum": 0, "type": "quantitative", "scale": {"domain": [0, 2], "range": [406, 331], "nice": false, "zero": false}, "axis": null}, "y2": {"datum": 2}}},
        {"data": {"name": "yt"}, "mark": {"type": "text", "fontSize": 4.5, "color": "#777", "align": "right", "baseline": "middle", "dx": -3},
         "encoding": {"x": {"datum": -0.5, "type": "quantitative", "scale": {"domain": [-0.5, 4.5], "range": [134.1, 259.9], "nice": false, "zero": false}, "axis": null}, "y": {"field": "v", "type": "quantitative", "scale": {"domain": [0, 2], "range": [406, 331], "nice": false, "zero": false}, "axis": null}, "text": {"field": "v", "format": ".1f"}}},
        {"data": {"name": "xt5"}, "mark": {"type": "text", "fontSize": 4.5, "color": "#777", "align": "center", "baseline": "top", "dy": 3},
         "encoding": {"x": {"field": "v", "type": "quantitative", "scale": {"domain": [-0.5, 4.5], "range": [134.1, 259.9], "nice": false, "zero": false}, "axis": null}, "y": {"datum": 0, "type": "quantitative", "scale": {"domain": [0, 2], "range": [406, 331], "nice": false, "zero": false}, "axis": null}, "text": {"field": "v"}}},
        {"data": {"values": [{"t": "bits"}]}, "mark": {"type": "text", "fontSize": 5, "color": "#777", "align": "center", "baseline": "middle", "angle": 270, "dy": -15},
         "encoding": {"x": {"datum": -0.5, "type": "quantitative", "scale": {"domain": [-0.5, 4.5], "range": [134.1, 259.9], "nice": false, "zero": false}, "axis": null}, "y": {"datum": 1, "type": "quantitative", "scale": {"domain": [0, 2], "range": [406, 331], "nice": false, "zero": false}, "axis": null}, "text": {"field": "t"}}},
        {"data": {"name": "letters"}, "transform": [{"filter": "datum.logo == 5 && datum.letter == 'G'"}],
         "mark": {"type": "point", "filled": true, "opacity": 1, "strokeWidth": 0, "shape": "M0.73,-1.64 A0.95,1 0 1 0 0.95,-0.9 L0.95,-1.15 L0.05,-1.15 L0.05,-0.86 L0.46,-0.86 A0.48,0.55 0 1 1 0.36,-1.37 Z"},
         "encoding": {"x": {"field": "pos", "type": "quantitative", "scale": {"domain": [-0.5, 4.5], "range": [134.1, 259.9], "nice": false, "zero": false}, "axis": null}, "y": {"field": "y0", "type": "quantitative", "scale": {"domain": [0, 2], "range": [406, 331], "nice": false, "zero": false}, "axis": null},
                      "size": {"field": "h", "type": "quantitative", "scale": {"type": "pow", "exponent": 2, "domain": [0, 1], "range": [0, 1406.3], "zero": true}, "legend": null},
                      "color": {"field": "letter", "type": "nominal", "legend": null}}},
        {"data": {"name": "letters"}, "transform": [{"filter": "datum.logo == 5 && datum.letter == 'T' && datum.h >= 0.1"}],
         "mark": {"type": "point", "filled": true, "opacity": 1, "strokeWidth": 0, "shape": "M-0.95,-2 L0.95,-2 L0.95,-1.52 L0.29,-1.52 L0.29,0 L-0.29,0 L-0.29,-1.52 L-0.95,-1.52 Z"},
         "encoding": {"x": {"field": "pos", "type": "quantitative", "scale": {"domain": [-0.5, 4.5], "range": [134.1, 259.9], "nice": false, "zero": false}, "axis": null}, "y": {"field": "y0", "type": "quantitative", "scale": {"domain": [0, 2], "range": [406, 331], "nice": false, "zero": false}, "axis": null},
                      "size": {"field": "h", "type": "quantitative", "scale": {"type": "pow", "exponent": 2, "domain": [0, 1], "range": [0, 1406.3], "zero": true}, "legend": null},
                      "color": {"field": "letter", "type": "nominal", "legend": null}}},
        {"data": {"name": "letters"}, "transform": [{"filter": "datum.logo == 5 && datum.letter == 'A' && datum.h >= 0.1"}],
         "mark": {"type": "point", "filled": true, "opacity": 1, "strokeWidth": 0, "size": 540, "shape": "M-1,0 L-0.22,-1.12 L0.22,-1.12 L1,0 L0.52,0 L0.36,-0.24 L-0.36,-0.24 L-0.52,0 Z M-0.24,-0.46 L0.24,-0.46 L0,-0.85 Z"},
         "encoding": {"x": {"field": "pos", "type": "quantitative", "scale": {"domain": [-0.5, 4.5], "range": [134.1, 259.9], "nice": false, "zero": false}, "axis": null}, "y": {"field": "y0", "type": "quantitative", "scale": {"domain": [0, 2], "range": [406, 331], "nice": false, "zero": false}, "axis": null}, "color": {"field": "letter", "type": "nominal", "legend": null}}},
        {"data": {"name": "letters"}, "transform": [{"filter": "datum.logo == 5 && datum.letter == 'C' && datum.h >= 0.22"}],
         "mark": {"type": "point", "filled": true, "opacity": 1, "strokeWidth": 0, "size": 540, "shape": "M0.819,-0.74 A1,0.47 0 1 0 0.819,-0.2 L0.45,-0.35 A0.55,0.21 0 1 1 0.45,-0.59 Z"},
         "encoding": {"x": {"field": "pos", "type": "quantitative", "scale": {"domain": [-0.5, 4.5], "range": [134.1, 259.9], "nice": false, "zero": false}, "axis": null}, "y": {"field": "y0", "type": "quantitative", "scale": {"domain": [0, 2], "range": [406, 331], "nice": false, "zero": false}, "axis": null}, "color": {"field": "letter", "type": "nominal", "legend": null}}},
        {"data": {"name": "letters"}, "transform": [{"filter": "datum.logo == 5 && datum.letter == 'C' && datum.h >= 0.1 && datum.h < 0.22"}],
         "mark": {"type": "point", "filled": true, "opacity": 1, "strokeWidth": 0, "size": 540, "shape": "M0.655,-0.409 A0.8,0.26 0 1 0 0.655,-0.111 L0.369,-0.197 A0.45,0.11 0 1 1 0.369,-0.323 Z"},
         "encoding": {"x": {"field": "pos", "type": "quantitative", "scale": {"domain": [-0.5, 4.5], "range": [134.1, 259.9], "nice": false, "zero": false}, "axis": null}, "y": {"field": "y0", "type": "quantitative", "scale": {"domain": [0, 2], "range": [406, 331], "nice": false, "zero": false}, "axis": null}, "color": {"field": "letter", "type": "nominal", "legend": null}}},
        {"data": {"name": "letters"}, "transform": [{"filter": "datum.logo == 5 && datum.h < 0.1"}],
         "mark": {"type": "bar", "size": 21},
         "encoding": {"x": {"field": "pos", "type": "quantitative", "scale": {"domain": [-0.5, 4.5], "range": [134.1, 259.9], "nice": false, "zero": false}, "axis": null}, "y": {"field": "h", "type": "quantitative", "stack": "zero", "scale": {"domain": [0, 2], "range": [406, 331], "nice": false, "zero": false}, "axis": null}, "order": {"field": "y0"}, "color": {"field": "letter", "type": "nominal", "legend": null}}}
      ]
    },
    {
      "layer": [
        {"data": {"values": [{}]}, "mark": {"type": "rect", "filled": false, "stroke": "#a0a0a0", "strokeWidth": 0.8},
         "encoding": {"x": {"datum": -0.5, "type": "quantitative", "scale": {"domain": [-0.5, 4.5], "range": [502, 627], "nice": false, "zero": false}, "axis": null}, "x2": {"datum": 4.5}, "y": {"datum": 0, "type": "quantitative", "scale": {"domain": [0, 2], "range": [404.3, 330.7], "nice": false, "zero": false}, "axis": null}, "y2": {"datum": 2}}},
        {"data": {"name": "yt"}, "mark": {"type": "text", "fontSize": 4.5, "color": "#777", "align": "right", "baseline": "middle", "dx": -3},
         "encoding": {"x": {"datum": -0.5, "type": "quantitative", "scale": {"domain": [-0.5, 4.5], "range": [502, 627], "nice": false, "zero": false}, "axis": null}, "y": {"field": "v", "type": "quantitative", "scale": {"domain": [0, 2], "range": [404.3, 330.7], "nice": false, "zero": false}, "axis": null}, "text": {"field": "v", "format": ".1f"}}},
        {"data": {"name": "xt5"}, "mark": {"type": "text", "fontSize": 4.5, "color": "#777", "align": "center", "baseline": "top", "dy": 3},
         "encoding": {"x": {"field": "v", "type": "quantitative", "scale": {"domain": [-0.5, 4.5], "range": [502, 627], "nice": false, "zero": false}, "axis": null}, "y": {"datum": 0, "type": "quantitative", "scale": {"domain": [0, 2], "range": [404.3, 330.7], "nice": false, "zero": false}, "axis": null}, "text": {"field": "v"}}},
        {"data": {"values": [{"t": "bits"}]}, "mark": {"type": "text", "fontSize": 5, "color": "#777", "align": "center", "baseline": "middle", "angle": 270, "dy": -15},
         "encoding": {"x": {"datum": -0.5, "type": "quantitative", "scale": {"domain": [-0.5, 4.5], "range": [502, 627], "nice": false, "zero": false}, "axis": null}, "y": {"datum": 1, "type": "quantitative", "scale": {"domain": [0, 2], "range": [404.3, 330.7], "nice": false, "zero": false}, "axis": null}, "text": {"field": "t"}}},
        {"data": {"name": "letters"}, "transform": [{"filter": "datum.logo == 6 && datum.letter == 'G'"}],
         "mark": {"type": "point", "filled": true, "opacity": 1, "strokeWidth": 0, "shape": "M0.73,-1.64 A0.95,1 0 1 0 0.95,-0.9 L0.95,-1.15 L0.05,-1.15 L0.05,-0.86 L0.46,-0.86 A0.48,0.55 0 1 1 0.36,-1.37 Z"},
         "encoding": {"x": {"field": "pos", "type": "quantitative", "scale": {"domain": [-0.5, 4.5], "range": [502, 627], "nice": false, "zero": false}, "axis": null}, "y": {"field": "y0", "type": "quantitative", "scale": {"domain": [0, 2], "range": [404.3, 330.7], "nice": false, "zero": false}, "axis": null},
                      "size": {"field": "h", "type": "quantitative", "scale": {"type": "pow", "exponent": 2, "domain": [0, 1], "range": [0, 1354.2], "zero": true}, "legend": null},
                      "color": {"field": "letter", "type": "nominal", "legend": null}}},
        {"data": {"name": "letters"}, "transform": [{"filter": "datum.logo == 6 && datum.letter == 'T' && datum.h >= 0.1"}],
         "mark": {"type": "point", "filled": true, "opacity": 1, "strokeWidth": 0, "shape": "M-0.95,-2 L0.95,-2 L0.95,-1.52 L0.29,-1.52 L0.29,0 L-0.29,0 L-0.29,-1.52 L-0.95,-1.52 Z"},
         "encoding": {"x": {"field": "pos", "type": "quantitative", "scale": {"domain": [-0.5, 4.5], "range": [502, 627], "nice": false, "zero": false}, "axis": null}, "y": {"field": "y0", "type": "quantitative", "scale": {"domain": [0, 2], "range": [404.3, 330.7], "nice": false, "zero": false}, "axis": null},
                      "size": {"field": "h", "type": "quantitative", "scale": {"type": "pow", "exponent": 2, "domain": [0, 1], "range": [0, 1354.2], "zero": true}, "legend": null},
                      "color": {"field": "letter", "type": "nominal", "legend": null}}},
        {"data": {"name": "letters"}, "transform": [{"filter": "datum.logo == 6 && datum.letter == 'A' && datum.h >= 0.1"}],
         "mark": {"type": "point", "filled": true, "opacity": 1, "strokeWidth": 0, "size": 540, "shape": "M-1,0 L-0.22,-1.12 L0.22,-1.12 L1,0 L0.52,0 L0.36,-0.24 L-0.36,-0.24 L-0.52,0 Z M-0.24,-0.46 L0.24,-0.46 L0,-0.85 Z"},
         "encoding": {"x": {"field": "pos", "type": "quantitative", "scale": {"domain": [-0.5, 4.5], "range": [502, 627], "nice": false, "zero": false}, "axis": null}, "y": {"field": "y0", "type": "quantitative", "scale": {"domain": [0, 2], "range": [404.3, 330.7], "nice": false, "zero": false}, "axis": null}, "color": {"field": "letter", "type": "nominal", "legend": null}}},
        {"data": {"name": "letters"}, "transform": [{"filter": "datum.logo == 6 && datum.letter == 'C' && datum.h >= 0.22"}],
         "mark": {"type": "point", "filled": true, "opacity": 1, "strokeWidth": 0, "size": 540, "shape": "M0.819,-0.74 A1,0.47 0 1 0 0.819,-0.2 L0.45,-0.35 A0.55,0.21 0 1 1 0.45,-0.59 Z"},
         "encoding": {"x": {"field": "pos", "type": "quantitative", "scale": {"domain": [-0.5, 4.5], "range": [502, 627], "nice": false, "zero": false}, "axis": null}, "y": {"field": "y0", "type": "quantitative", "scale": {"domain": [0, 2], "range": [404.3, 330.7], "nice": false, "zero": false}, "axis": null}, "color": {"field": "letter", "type": "nominal", "legend": null}}},
        {"data": {"name": "letters"}, "transform": [{"filter": "datum.logo == 6 && datum.letter == 'C' && datum.h >= 0.1 && datum.h < 0.22"}],
         "mark": {"type": "point", "filled": true, "opacity": 1, "strokeWidth": 0, "size": 540, "shape": "M0.655,-0.409 A0.8,0.26 0 1 0 0.655,-0.111 L0.369,-0.197 A0.45,0.11 0 1 1 0.369,-0.323 Z"},
         "encoding": {"x": {"field": "pos", "type": "quantitative", "scale": {"domain": [-0.5, 4.5], "range": [502, 627], "nice": false, "zero": false}, "axis": null}, "y": {"field": "y0", "type": "quantitative", "scale": {"domain": [0, 2], "range": [404.3, 330.7], "nice": false, "zero": false}, "axis": null}, "color": {"field": "letter", "type": "nominal", "legend": null}}},
        {"data": {"name": "letters"}, "transform": [{"filter": "datum.logo == 6 && datum.h < 0.1"}],
         "mark": {"type": "bar", "size": 21},
         "encoding": {"x": {"field": "pos", "type": "quantitative", "scale": {"domain": [-0.5, 4.5], "range": [502, 627], "nice": false, "zero": false}, "axis": null}, "y": {"field": "h", "type": "quantitative", "stack": "zero", "scale": {"domain": [0, 2], "range": [404.3, 330.7], "nice": false, "zero": false}, "axis": null}, "order": {"field": "y0"}, "color": {"field": "letter", "type": "nominal", "legend": null}}}
      ]
    },
    {
      "layer": [
        {"data": {"values": [{}]}, "mark": {"type": "rect", "filled": false, "stroke": "#a0a0a0", "strokeWidth": 0.8},
         "encoding": {"x": {"datum": -0.5, "type": "quantitative", "scale": {"domain": [-0.5, 4.5], "range": [131.5, 257], "nice": false, "zero": false}, "axis": null}, "x2": {"datum": 4.5}, "y": {"datum": 0, "type": "quantitative", "scale": {"domain": [0, 2], "range": [504.3, 430], "nice": false, "zero": false}, "axis": null}, "y2": {"datum": 2}}},
        {"data": {"name": "yt"}, "mark": {"type": "text", "fontSize": 4.5, "color": "#777", "align": "right", "baseline": "middle", "dx": -3},
         "encoding": {"x": {"datum": -0.5, "type": "quantitative", "scale": {"domain": [-0.5, 4.5], "range": [131.5, 257], "nice": false, "zero": false}, "axis": null}, "y": {"field": "v", "type": "quantitative", "scale": {"domain": [0, 2], "range": [504.3, 430], "nice": false, "zero": false}, "axis": null}, "text": {"field": "v", "format": ".1f"}}},
        {"data": {"name": "xt5"}, "mark": {"type": "text", "fontSize": 4.5, "color": "#777", "align": "center", "baseline": "top", "dy": 3},
         "encoding": {"x": {"field": "v", "type": "quantitative", "scale": {"domain": [-0.5, 4.5], "range": [131.5, 257], "nice": false, "zero": false}, "axis": null}, "y": {"datum": 0, "type": "quantitative", "scale": {"domain": [0, 2], "range": [504.3, 430], "nice": false, "zero": false}, "axis": null}, "text": {"field": "v"}}},
        {"data": {"values": [{"t": "bits"}]}, "mark": {"type": "text", "fontSize": 5, "color": "#777", "align": "center", "baseline": "middle", "angle": 270, "dy": -15},
         "encoding": {"x": {"datum": -0.5, "type": "quantitative", "scale": {"domain": [-0.5, 4.5], "range": [131.5, 257], "nice": false, "zero": false}, "axis": null}, "y": {"datum": 1, "type": "quantitative", "scale": {"domain": [0, 2], "range": [504.3, 430], "nice": false, "zero": false}, "axis": null}, "text": {"field": "t"}}},
        {"data": {"name": "letters"}, "transform": [{"filter": "datum.logo == 7 && datum.letter == 'G'"}],
         "mark": {"type": "point", "filled": true, "opacity": 1, "strokeWidth": 0, "shape": "M0.73,-1.64 A0.95,1 0 1 0 0.95,-0.9 L0.95,-1.15 L0.05,-1.15 L0.05,-0.86 L0.46,-0.86 A0.48,0.55 0 1 1 0.36,-1.37 Z"},
         "encoding": {"x": {"field": "pos", "type": "quantitative", "scale": {"domain": [-0.5, 4.5], "range": [131.5, 257], "nice": false, "zero": false}, "axis": null}, "y": {"field": "y0", "type": "quantitative", "scale": {"domain": [0, 2], "range": [504.3, 430], "nice": false, "zero": false}, "axis": null},
                      "size": {"field": "h", "type": "quantitative", "scale": {"type": "pow", "exponent": 2, "domain": [0, 1], "range": [0, 1380.1], "zero": true}, "legend": null},
                      "color": {"field": "letter", "type": "nominal", "legend": null}}},
        {"data": {"name": "letters"}, "transform": [{"filter": "datum.logo == 7 && datum.letter == 'T' && datum.h >= 0.1"}],
         "mark": {"type": "point", "filled": true, "opacity": 1, "strokeWidth": 0, "shape": "M-0.95,-2 L0.95,-2 L0.95,-1.52 L0.29,-1.52 L0.29,0 L-0.29,0 L-0.29,-1.52 L-0.95,-1.52 Z"},
         "encoding": {"x": {"field": "pos", "type": "quantitative", "scale": {"domain": [-0.5, 4.5], "range": [131.5, 257], "nice": false, "zero": false}, "axis": null}, "y": {"field": "y0", "type": "quantitative", "scale": {"domain": [0, 2], "range": [504.3, 430], "nice": false, "zero": false}, "axis": null},
                      "size": {"field": "h", "type": "quantitative", "scale": {"type": "pow", "exponent": 2, "domain": [0, 1], "range": [0, 1380.1], "zero": true}, "legend": null},
                      "color": {"field": "letter", "type": "nominal", "legend": null}}},
        {"data": {"name": "letters"}, "transform": [{"filter": "datum.logo == 7 && datum.letter == 'A' && datum.h >= 0.1"}],
         "mark": {"type": "point", "filled": true, "opacity": 1, "strokeWidth": 0, "size": 540, "shape": "M-1,0 L-0.22,-1.12 L0.22,-1.12 L1,0 L0.52,0 L0.36,-0.24 L-0.36,-0.24 L-0.52,0 Z M-0.24,-0.46 L0.24,-0.46 L0,-0.85 Z"},
         "encoding": {"x": {"field": "pos", "type": "quantitative", "scale": {"domain": [-0.5, 4.5], "range": [131.5, 257], "nice": false, "zero": false}, "axis": null}, "y": {"field": "y0", "type": "quantitative", "scale": {"domain": [0, 2], "range": [504.3, 430], "nice": false, "zero": false}, "axis": null}, "color": {"field": "letter", "type": "nominal", "legend": null}}},
        {"data": {"name": "letters"}, "transform": [{"filter": "datum.logo == 7 && datum.letter == 'C' && datum.h >= 0.22"}],
         "mark": {"type": "point", "filled": true, "opacity": 1, "strokeWidth": 0, "size": 540, "shape": "M0.819,-0.74 A1,0.47 0 1 0 0.819,-0.2 L0.45,-0.35 A0.55,0.21 0 1 1 0.45,-0.59 Z"},
         "encoding": {"x": {"field": "pos", "type": "quantitative", "scale": {"domain": [-0.5, 4.5], "range": [131.5, 257], "nice": false, "zero": false}, "axis": null}, "y": {"field": "y0", "type": "quantitative", "scale": {"domain": [0, 2], "range": [504.3, 430], "nice": false, "zero": false}, "axis": null}, "color": {"field": "letter", "type": "nominal", "legend": null}}},
        {"data": {"name": "letters"}, "transform": [{"filter": "datum.logo == 7 && datum.letter == 'C' && datum.h >= 0.1 && datum.h < 0.22"}],
         "mark": {"type": "point", "filled": true, "opacity": 1, "strokeWidth": 0, "size": 540, "shape": "M0.655,-0.409 A0.8,0.26 0 1 0 0.655,-0.111 L0.369,-0.197 A0.45,0.11 0 1 1 0.369,-0.323 Z"},
         "encoding": {"x": {"field": "pos", "type": "quantitative", "scale": {"domain": [-0.5, 4.5], "range": [131.5, 257], "nice": false, "zero": false}, "axis": null}, "y": {"field": "y0", "type": "quantitative", "scale": {"domain": [0, 2], "range": [504.3, 430], "nice": false, "zero": false}, "axis": null}, "color": {"field": "letter", "type": "nominal", "legend": null}}},
        {"data": {"name": "letters"}, "transform": [{"filter": "datum.logo == 7 && datum.h < 0.1"}],
         "mark": {"type": "bar", "size": 21},
         "encoding": {"x": {"field": "pos", "type": "quantitative", "scale": {"domain": [-0.5, 4.5], "range": [131.5, 257], "nice": false, "zero": false}, "axis": null}, "y": {"field": "h", "type": "quantitative", "stack": "zero", "scale": {"domain": [0, 2], "range": [504.3, 430], "nice": false, "zero": false}, "axis": null}, "order": {"field": "y0"}, "color": {"field": "letter", "type": "nominal", "legend": null}}}
      ]
    },
    {
      "layer": [
        {"data": {"values": [{}]}, "mark": {"type": "rect", "filled": false, "stroke": "#a0a0a0", "strokeWidth": 0.8},
         "encoding": {"x": {"datum": -0.5, "type": "quantitative", "scale": {"domain": [-0.5, 4.5], "range": [499, 627], "nice": false, "zero": false}, "axis": null}, "x2": {"datum": 4.5}, "y": {"datum": 0, "type": "quantitative", "scale": {"domain": [0, 2], "range": [504.3, 429], "nice": false, "zero": false}, "axis": null}, "y2": {"datum": 2}}},
        {"data": {"name": "yt"}, "mark": {"type": "text", "fontSize": 4.5, "color": "#777", "align": "right", "baseline": "middle", "dx": -3},
         "encoding": {"x": {"datum": -0.5, "type": "quantitative", "scale": {"domain": [-0.5, 4.5], "range": [499, 627], "nice": false, "zero": false}, "axis": null}, "y": {"field": "v", "type": "quantitative", "scale": {"domain": [0, 2], "range": [504.3, 429], "nice": false, "zero": false}, "axis": null}, "text": {"field": "v", "format": ".1f"}}},
        {"data": {"name": "xt5"}, "mark": {"type": "text", "fontSize": 4.5, "color": "#777", "align": "center", "baseline": "top", "dy": 3},
         "encoding": {"x": {"field": "v", "type": "quantitative", "scale": {"domain": [-0.5, 4.5], "range": [499, 627], "nice": false, "zero": false}, "axis": null}, "y": {"datum": 0, "type": "quantitative", "scale": {"domain": [0, 2], "range": [504.3, 429], "nice": false, "zero": false}, "axis": null}, "text": {"field": "v"}}},
        {"data": {"values": [{"t": "bits"}]}, "mark": {"type": "text", "fontSize": 5, "color": "#777", "align": "center", "baseline": "middle", "angle": 270, "dy": -15},
         "encoding": {"x": {"datum": -0.5, "type": "quantitative", "scale": {"domain": [-0.5, 4.5], "range": [499, 627], "nice": false, "zero": false}, "axis": null}, "y": {"datum": 1, "type": "quantitative", "scale": {"domain": [0, 2], "range": [504.3, 429], "nice": false, "zero": false}, "axis": null}, "text": {"field": "t"}}},
        {"data": {"name": "letters"}, "transform": [{"filter": "datum.logo == 8 && datum.letter == 'G'"}],
         "mark": {"type": "point", "filled": true, "opacity": 1, "strokeWidth": 0, "shape": "M0.73,-1.64 A0.95,1 0 1 0 0.95,-0.9 L0.95,-1.15 L0.05,-1.15 L0.05,-0.86 L0.46,-0.86 A0.48,0.55 0 1 1 0.36,-1.37 Z"},
         "encoding": {"x": {"field": "pos", "type": "quantitative", "scale": {"domain": [-0.5, 4.5], "range": [499, 627], "nice": false, "zero": false}, "axis": null}, "y": {"field": "y0", "type": "quantitative", "scale": {"domain": [0, 2], "range": [504.3, 429], "nice": false, "zero": false}, "axis": null},
                      "size": {"field": "h", "type": "quantitative", "scale": {"type": "pow", "exponent": 2, "domain": [0, 1], "range": [0, 1417.5], "zero": true}, "legend": null},
                      "color": {"field": "letter", "type": "nominal", "legend": null}}},
        {"data": {"name": "letters"}, "transform": [{"filter": "datum.logo == 8 && datum.letter == 'T' && datum.h >= 0.1"}],
         "mark": {"type": "point", "filled": true, "opacity": 1, "strokeWidth": 0, "shape": "M-0.95,-2 L0.95,-2 L0.95,-1.52 L0.29,-1.52 L0.29,0 L-0.29,0 L-0.29,-1.52 L-0.95,-1.52 Z"},
         "encoding": {"x": {"field": "pos", "type": "quantitative", "scale": {"domain": [-0.5, 4.5], "range": [499, 627], "nice": false, "zero": false}, "axis": null}, "y": {"field": "y0", "type": "quantitative", "scale": {"domain": [0, 2], "range": [504.3, 429], "nice": false, "zero": false}, "axis": null},
                      "size": {"field": "h", "type": "quantitative", "scale": {"type": "pow", "exponent": 2, "domain": [0, 1], "range": [0, 1417.5], "zero": true}, "legend": null},
                      "color": {"field": "letter", "type": "nominal", "legend": null}}},
        {"data": {"name": "letters"}, "transform": [{"filter": "datum.logo == 8 && datum.letter == 'A' && datum.h >= 0.1"}],
         "mark": {"type": "point", "filled": true, "opacity": 1, "strokeWidth": 0, "size": 540, "shape": "M-1,0 L-0.22,-1.12 L0.22,-1.12 L1,0 L0.52,0 L0.36,-0.24 L-0.36,-0.24 L-0.52,0 Z M-0.24,-0.46 L0.24,-0.46 L0,-0.85 Z"},
         "encoding": {"x": {"field": "pos", "type": "quantitative", "scale": {"domain": [-0.5, 4.5], "range": [499, 627], "nice": false, "zero": false}, "axis": null}, "y": {"field": "y0", "type": "quantitative", "scale": {"domain": [0, 2], "range": [504.3, 429], "nice": false, "zero": false}, "axis": null}, "color": {"field": "letter", "type": "nominal", "legend": null}}},
        {"data": {"name": "letters"}, "transform": [{"filter": "datum.logo == 8 && datum.letter == 'C' && datum.h >= 0.22"}],
         "mark": {"type": "point", "filled": true, "opacity": 1, "strokeWidth": 0, "size": 540, "shape": "M0.819,-0.74 A1,0.47 0 1 0 0.819,-0.2 L0.45,-0.35 A0.55,0.21 0 1 1 0.45,-0.59 Z"},
         "encoding": {"x": {"field": "pos", "type": "quantitative", "scale": {"domain": [-0.5, 4.5], "range": [499, 627], "nice": false, "zero": false}, "axis": null}, "y": {"field": "y0", "type": "quantitative", "scale": {"domain": [0, 2], "range": [504.3, 429], "nice": false, "zero": false}, "axis": null}, "color": {"field": "letter", "type": "nominal", "legend": null}}},
        {"data": {"name": "letters"}, "transform": [{"filter": "datum.logo == 8 && datum.letter == 'C' && datum.h >= 0.1 && datum.h < 0.22"}],
         "mark": {"type": "point", "filled": true, "opacity": 1, "strokeWidth": 0, "size": 540, "shape": "M0.655,-0.409 A0.8,0.26 0 1 0 0.655,-0.111 L0.369,-0.197 A0.45,0.11 0 1 1 0.369,-0.323 Z"},
         "encoding": {"x": {"field": "pos", "type": "quantitative", "scale": {"domain": [-0.5, 4.5], "range": [499, 627], "nice": false, "zero": false}, "axis": null}, "y": {"field": "y0", "type": "quantitative", "scale": {"domain": [0, 2], "range": [504.3, 429], "nice": false, "zero": false}, "axis": null}, "color": {"field": "letter", "type": "nominal", "legend": null}}},
        {"data": {"name": "letters"}, "transform": [{"filter": "datum.logo == 8 && datum.h < 0.1"}],
         "mark": {"type": "bar", "size": 21},
         "encoding": {"x": {"field": "pos", "type": "quantitative", "scale": {"domain": [-0.5, 4.5], "range": [499, 627], "nice": false, "zero": false}, "axis": null}, "y": {"field": "h", "type": "quantitative", "stack": "zero", "scale": {"domain": [0, 2], "range": [504.3, 429], "nice": false, "zero": false}, "axis": null}, "order": {"field": "y0"}, "color": {"field": "letter", "type": "nominal", "legend": null}}}
      ]
    }
  ]
}
